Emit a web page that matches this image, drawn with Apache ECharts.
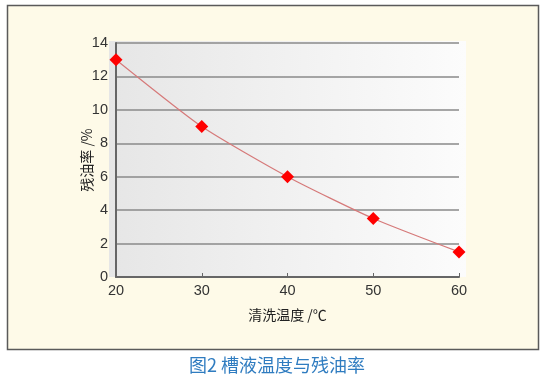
<!DOCTYPE html>
<html><head><meta charset="utf-8">
<script src="https://cdn.jsdelivr.net/npm/echarts@6/dist/echarts.min.js"></script>
<style>html,body{margin:0;padding:0;background:#fff}#c{width:554px;height:385px}</style>
</head><body><div id="c"></div>
<script>
const temps = [20, 30, 40, 50, 60];
const oilRate = [13, 9, 6, 3.5, 1.5];
const xName = '清洗温度 /℃';
const yName = '残油率 /%';
const caption = '图2 槽液温度与残油率';

const chart = echarts.init(document.getElementById('c'));
chart.setOption({
  animation: false,
  backgroundColor: '#ffffff',
  graphic: [
    {type: 'rect', z: -10, shape: {x: 7.5, y: 5.5, width: 531, height: 344},
     style: {fill: '#fefae8', stroke: '#5a5a5a', lineWidth: 1.5}},
    {type: 'rect', z: -9, shape: {x: 109, y: 41, width: 357, height: 236},
     style: {fill: new echarts.graphic.LinearGradient(0, 0, 1, 0, [
       {offset: 0, color: '#e6e6e6'}, {offset: 1, color: '#fcfcfc'}])}},
    {type: 'text', left: 'center', top: 356,
     style: {text: caption, fill: '#2f7cc0', fontSize: 18, fontFamily: 'Noto Sans CJK SC'}}
  ],
  grid: {left: 116, right: 95, top: 43, bottom: 108},
  xAxis: {
    type: 'value', min: 20, max: 60, interval: 10,
    name: xName, nameLocation: 'middle', nameGap: 31,
    nameTextStyle: {color: '#222', fontSize: 14, fontFamily: 'Noto Sans CJK SC'},
    axisLine: {lineStyle: {color: '#666', width: 2}},
    axisTick: {show: true, inside: true, length: 4, lineStyle: {color: '#666'}},
    axisLabel: {color: '#333', fontSize: 14.5, margin: 6, fontFamily: 'Liberation Sans'},
    splitLine: {show: false}
  },
  yAxis: {
    type: 'value', min: 0, max: 14, interval: 2,
    name: yName, nameLocation: 'middle', nameGap: 22, nameRotate: 90,
    nameMoveOverlap: false,
    nameTextStyle: {color: '#222', fontSize: 14, fontFamily: 'Noto Sans CJK SC'},
    axisLine: {show: true, lineStyle: {color: '#666', width: 2}},
    axisTick: {show: false},
    axisLabel: {color: '#333', fontSize: 14.5, margin: 8, fontFamily: 'Liberation Sans'},
    splitLine: {show: true, lineStyle: {color: '#8a8a8a', width: 1.5}}
  },
  series: [{
    type: 'line', smooth: 0.2,
    data: temps.map((t, i) => [t, oilRate[i]]),
    symbol: 'diamond', symbolSize: 13,
    itemStyle: {color: '#ff0000'},
    lineStyle: {color: '#d67a7a', width: 1.2}
  }]
});
</script></body></html>
